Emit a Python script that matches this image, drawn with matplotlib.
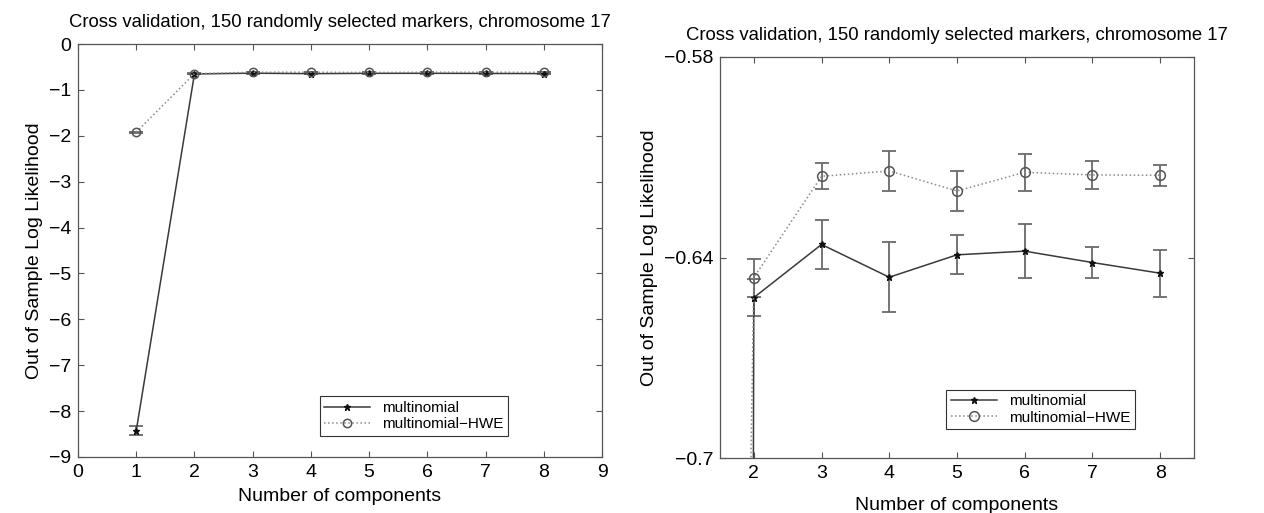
import numpy as np
import matplotlib
matplotlib.use("Agg")
import matplotlib.pyplot as plt

plt.rcParams['font.family'] = ['Liberation Sans', 'DejaVu Sans']

# number of mixture components
components = [1, 2, 3, 4, 5, 6, 7, 8]

# multinomial model, mean and half error bar
multi_mean = [-8.43, -0.652, -0.6361, -0.6459, -0.6392, -0.6381, -0.6415, -0.6447]
multi_err = [0.10, 0.0055, 0.0074, 0.0105, 0.0058, 0.0080, 0.0045, 0.0070]

# multinomial-HWE model
hwe_mean = [-1.92, -0.646, -0.6157, -0.6141, -0.6201, -0.6145, -0.6153, -0.6154]
hwe_err = [0.01, 0.0057, 0.0039, 0.0060, 0.0060, 0.0055, 0.0042, 0.0031]

title = "Cross validation, 150 randomly selected markers, chromosome 17"
xlab = "Number of components"
ylab = "Out of Sample Log Likelihood"
series_names = ["multinomial", "multinomial\u2212HWE"]

left_xticks = [0, 1, 2, 3, 4, 5, 6, 7, 8, 9]
left_yticks = [0, -1, -2, -3, -4, -5, -6, -7, -8, -9]
right_xticks = [2, 3, 4, 5, 6, 7, 8]
right_yticks = [-0.58, -0.64, -0.7]
right_ylabels = ["\u22120.58", "\u22120.64", "\u22120.7"]

fig = plt.figure(figsize=(12.64, 5.13), dpi=100)
ax1 = fig.add_axes([0.0617, 0.1092, 0.4146, 0.805])
ax2 = fig.add_axes([0.5696, 0.1072, 0.375, 0.7817])

line_col = '#3a3a3a'
err_col = '#6a6a6a'


def draw(ax, msize_star, msize_circ, xpad):
    ax.errorbar(components, multi_mean, yerr=multi_err, fmt='none',
                ecolor=err_col, elinewidth=1.3, capsize=5, capthick=1.3, zorder=2)
    ax.errorbar(components, hwe_mean, yerr=hwe_err, fmt='none',
                ecolor=err_col, elinewidth=1.3, capsize=5, capthick=1.3, zorder=2)
    ax.plot(components, multi_mean, '-', color=line_col, lw=1.1,
            marker='*', ms=msize_star, mfc='#111111', mec='#111111',
            label=series_names[0], zorder=3)
    ax.plot(components, hwe_mean, ':', color='#8a8a8a', lw=1.1,
            marker='o', ms=msize_circ, mfc='none', mec='#555555', mew=1.1,
            label=series_names[1], zorder=3)
    ax.tick_params(direction='in', top=True, right=True, labelsize=14,
                   length=4, color='#555555', pad=5)
    for s in ax.spines.values():
        s.set_color('#555555')
        s.set_linewidth(0.9)
    ax.set_xlabel(xlab, fontsize=14, labelpad=xpad)
    ax.set_ylabel(ylab, fontsize=14)
    ax.set_title(title, fontsize=13.3, pad=12)


draw(ax1, 5, 6, 5)
ax1.set_xlim(0, 9)
ax1.set_ylim(-9, 0)
ax1.set_xticks(left_xticks)
ax1.set_yticks(left_yticks)
ax1.set_yticklabels([f"\u2212{abs(v)}" if v < 0 else str(v) for v in left_yticks])
leg1 = ax1.legend(loc='lower right', bbox_to_anchor=(0.821, 0.051), fontsize=11,
                  fancybox=False, edgecolor='#333333', framealpha=1,
                  handlelength=3, borderpad=0.3, labelspacing=0.15, borderaxespad=0)
leg1.get_frame().set_linewidth(0.8)

draw(ax2, 5, 7, 11)
ax2.set_xlim(1.5, 8.5)
ax2.set_ylim(-0.7, -0.58)
ax2.set_xticks(right_xticks)
ax2.set_yticks(right_yticks)
ax2.set_yticklabels(right_ylabels)
leg2 = ax2.legend(loc='lower right', bbox_to_anchor=(0.875, 0.072), fontsize=11,
                  fancybox=False, edgecolor='#333333', framealpha=1,
                  handlelength=3, borderpad=0.3, labelspacing=0.15, borderaxespad=0)
leg2.get_frame().set_linewidth(0.8)

fig.savefig("out.png", dpi=100)
